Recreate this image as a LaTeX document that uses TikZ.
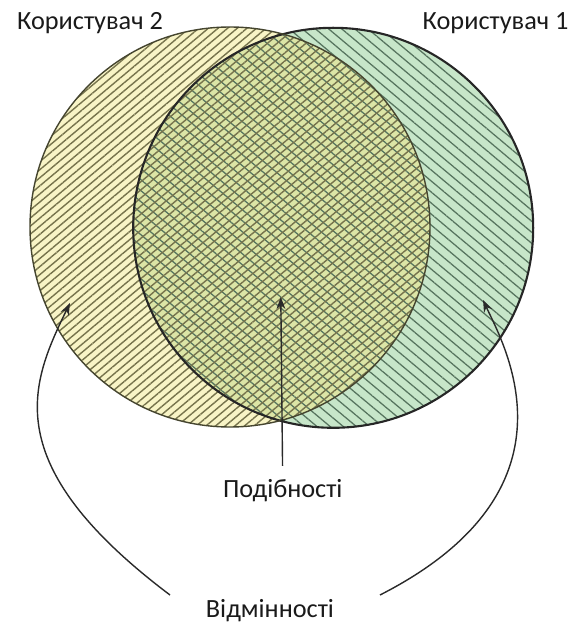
\documentclass[tikz,border=0pt]{standalone}
\usepackage{fontspec}
\setmainfont{Carlito}
\usetikzlibrary{arrows.meta,patterns.meta,positioning}
\definecolor{ink}{HTML}{1A1A1A}
\definecolor{rim}{HTML}{262626}
\definecolor{rimsoft}{HTML}{45452F}
\definecolor{cream}{HTML}{F8F4C6}
\definecolor{mint}{HTML}{C7E6C9}
\definecolor{olive}{HTML}{DCE5A6}
\definecolor{hatchcream}{HTML}{76734C}
\definecolor{hatchmint}{HTML}{56745E}
\definecolor{pointerc}{HTML}{2A2A2A}
\tikzset{
  font=\fontsize{18.7}{22}\selectfont,
  >={Stealth[length=3mm,width=2.2mm]},
  usertag/.style={text=ink, inner sep=2pt, anchor=base},
  notetag/.style={text=ink, inner sep=2pt, anchor=base},
  hatchtwo/.style={pattern={Lines[angle=40,distance=4.4pt,line width=1pt]}, pattern color=hatchcream},
  hatchone/.style={pattern={Lines[angle=-40,distance=6pt,line width=0.9pt]}, pattern color=hatchmint},
  rimone/.style={draw=rim, line width=1.5pt},
  rimtwo/.style={draw=rimsoft, line width=1pt},
  pointer/.style={->, draw=pointerc, line width=1pt}
}

\begin{document}
\begin{tikzpicture}[x=1cm,y=1cm]
  \useasboundingbox (0,0) rectangle (14.425,15.575);

  % circles
  \coordinate (c2) at (5.75,9.9);
  \coordinate (c1) at (8.33,9.88);
  \fill[mint] (c1) circle (5);
  \fill[cream] (c2) circle (5);
  \begin{scope}
    \clip (c1) circle (5);
    \fill[olive] (c2) circle (5);
  \end{scope}
  \fill[hatchone] (c1) circle (5);
  \fill[hatchtwo] (c2) circle (5);
  \draw[rimone] (c1) circle (5);
  \draw[rimtwo] (c2) circle (5);

  % labels
  \node[usertag] (u2) at (2.25,14.825) {Користувач 2};
  \node[usertag] (u1) at (12.39,14.825) {Користувач 1};
  \node[notetag] (sim) at (7.07,3.15) {Подібності};
  \node[notetag] (dif) at (6.75,0.15) {Відмінності};

  % arrow ends
  \coordinate (simtip) at (7.02,8.15);
  \coordinate (tipl) at (1.75,8.0);
  \coordinate (tipr) at (12.075,8.075);
  \coordinate (difl) at (4.25,0.7);
  \coordinate (difr) at (9.5,0.7);

  % arrows
  \draw[pointer, shorten <=2.5mm] (sim) -- (simtip);
  \draw[pointer] (difl) .. controls +(143:5.46) and +(-116:2.23) .. (tipl);
  \draw[pointer] (difr) .. controls +(27:5.8) and +(-65:1.25) .. (tipr);
\end{tikzpicture}
\end{document}
